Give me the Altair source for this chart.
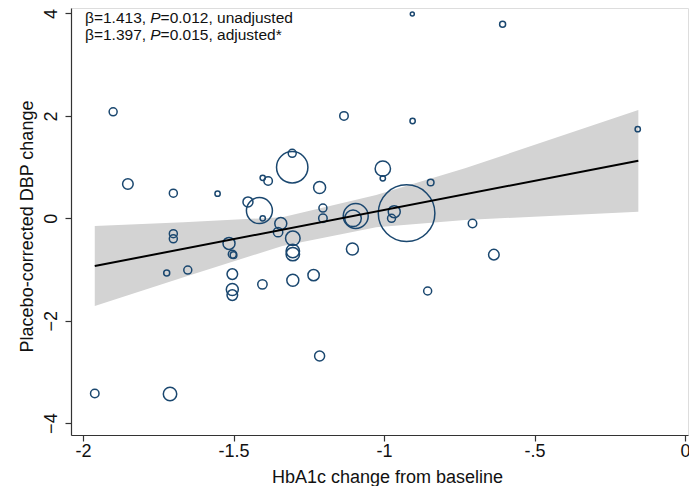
import altair as alt
import pandas as pd

# ---- data ----
hba1c = [-1.90, -1.851, -1.70, -1.553, -1.133, -1.305, -1.305, -1.403, -1.385, -1.214,
         -1.452, -1.414, -1.403, -1.203, -1.203, -1.343, -1.352, -1.70, -1.70, -1.515,
         -1.504, -1.50, -1.303, -1.303, -1.303, -1.105, -1.722, -1.652, -1.504, -1.303,
         -1.234, -1.404, -1.504, -1.504, -0.906, -0.606, -0.905, -0.157, -1.004, -1.004,
         -0.845, -1.094, -1.103, -0.925, -0.966, -0.975, -0.706, -0.635, -0.855, -1.961,
         -1.711, -1.214]
dbp = [2.08, 0.67, 0.49, 0.48, 2.0, 0.996, 1.27, 0.79, 0.73, 0.6,
       0.32, 0.15, 0.0, 0.2, 0.0, -0.10, -0.27, -0.30, -0.40, -0.49,
       -0.70, -0.72, -0.39, -0.64, -0.70, -0.60, -1.07, -1.01, -1.09, -1.21,
       -1.11, -1.29, -1.39, -1.50, 3.99, 3.79, 1.90, 1.74, 0.97, 0.78,
       0.70, 0.045, 0.0, 0.10, 0.13, 0.0, -0.10, -0.71, -1.42, -3.42,
       -3.43, -2.69]
weight = [16, 28, 16, 7, 18, 246, 16, 7, 18, 36,
          25, 169, 7, 16, 18, 36, 22, 16, 16, 36,
          16, 11, 53, 45, 45, 36, 9, 16, 28, 36,
          32, 22, 36, 28, 4, 9, 7, 7, 59, 7,
          11, 156, 69, 801, 36, 16, 18, 28, 16, 18,
          45, 25]

band_x = [-1.961, -1.666, -1.338, -1.026, -0.731, -0.155]
band_lo = [-1.713, -1.152, -0.541, -0.176, -0.033, 0.13]
band_hi = [-0.151, -0.078, 0.02, 0.455, 0.977, 2.115]

fit_x = [-1.961, -0.155]
fit_y = [-0.932, 1.125]

x_ticks = [-2, -1.5, -1, -0.5, 0]
x_tick_labels = ["-2", "-1.5", "-1", "-.5", "0"]
y_ticks = [-4, -2, 0, 2, 4]

notes = [
    ["\u03b2=1.413, ", "P", "=0.012, unadjusted"],
    ["\u03b2=1.397, ", "P", "=0.015, adjusted*"],
]

FONT = "Liberation Sans"
NAVY = "#1a476f"
AXC = "#333333"

pts = pd.DataFrame({"x": hba1c, "y": dbp, "w": weight})
band = pd.DataFrame({"x": band_x, "lo": band_lo, "hi": band_hi})
fit = pd.DataFrame({"x": fit_x, "y": fit_y})

label_expr = "".join(
    f"datum.value == {v} ? '{l}' : " for v, l in zip(x_ticks, x_tick_labels)
) + "datum.label"

xscale = alt.Scale(domain=[-2.04, 0.01], nice=False, zero=False)
yscale = alt.Scale(domain=[-4.232, 4.107], nice=False, zero=False)

xaxis = alt.Axis(
    values=x_ticks, labelExpr=label_expr, title="HbA1c change from baseline",
    titleFont=FONT, titleFontSize=18, titleFontWeight="normal", titleColor="#111",
    titleX=316, titleY=47, titleAlign="center", titleBaseline="alphabetic",
    labelFont=FONT, labelFontSize=18, labelColor="#111", labelPadding=1,
    labelFlush=False, labelOverlap=False,
    tickSize=6, tickColor=AXC, domainColor=AXC, tickWidth=1.2, domainWidth=1.2,
    grid=False,
)
yaxis = alt.Axis(
    values=y_ticks, title="Placebo-corrected DBP change",
    titleFont=FONT, titleFontSize=18, titleFontWeight="normal", titleColor="#111",
    titleAngle=270, titleX=-43.5, titleY=218, titleAlign="center",
    titleBaseline="middle",
    labelFont=FONT, labelFontSize=18, labelColor="#111", labelAngle=270,
    labelAlign="center", labelBaseline="middle", labelPadding=14,
    labelFlush=False, labelOverlap=False,
    tickSize=6, tickColor=AXC, domainColor=AXC, tickWidth=1.2, domainWidth=1.2,
    grid=False,
)

band_layer = alt.Chart(band).mark_area(color="#d3d3d3", opacity=1).encode(
    x=alt.X("x:Q", scale=xscale, axis=xaxis),
    y=alt.Y("lo:Q", scale=yscale, axis=yaxis),
    y2="hi:Q",
)

pt_layer = alt.Chart(pts).mark_point(
    shape="circle", filled=False, color=NAVY, strokeWidth=1.5, opacity=1
).encode(
    x=alt.X("x:Q", scale=xscale),
    y=alt.Y("y:Q", scale=yscale),
    size=alt.Size("w:Q", scale=alt.Scale(domain=[0, 800], range=[0, 3200]), legend=None),
)

line_layer = alt.Chart(fit).mark_line(color="black", strokeWidth=2).encode(
    x=alt.X("x:Q", scale=xscale),
    y=alt.Y("y:Q", scale=yscale),
)

text_layers = []
offsets = [14, 79.3, 89.6]
line_y = [9.5, 26.5]
for li, parts in enumerate(notes):
    for pi, txt in enumerate(parts):
        text_layers.append(
            alt.Chart(pd.DataFrame({"t": [txt]})).mark_text(
                align="left", baseline="middle", font=FONT, fontSize=15.5,
                color="#111", fontStyle="italic" if pi == 1 else "normal",
            ).encode(
                x=alt.value(offsets[pi]), y=alt.value(line_y[li]), text="t:N"
            )
        )

chart = alt.layer(band_layer, pt_layer, line_layer, *text_layers).properties(
    width=617, height=427,
    autosize=alt.AutoSizeParams(type="none"),
    padding={"left": 63, "top": 0, "right": 1, "bottom": 51},
).configure_view(stroke=None).configure(background="white")

chart.save("out.html", embed_options={"renderer": "svg", "actions": False})
